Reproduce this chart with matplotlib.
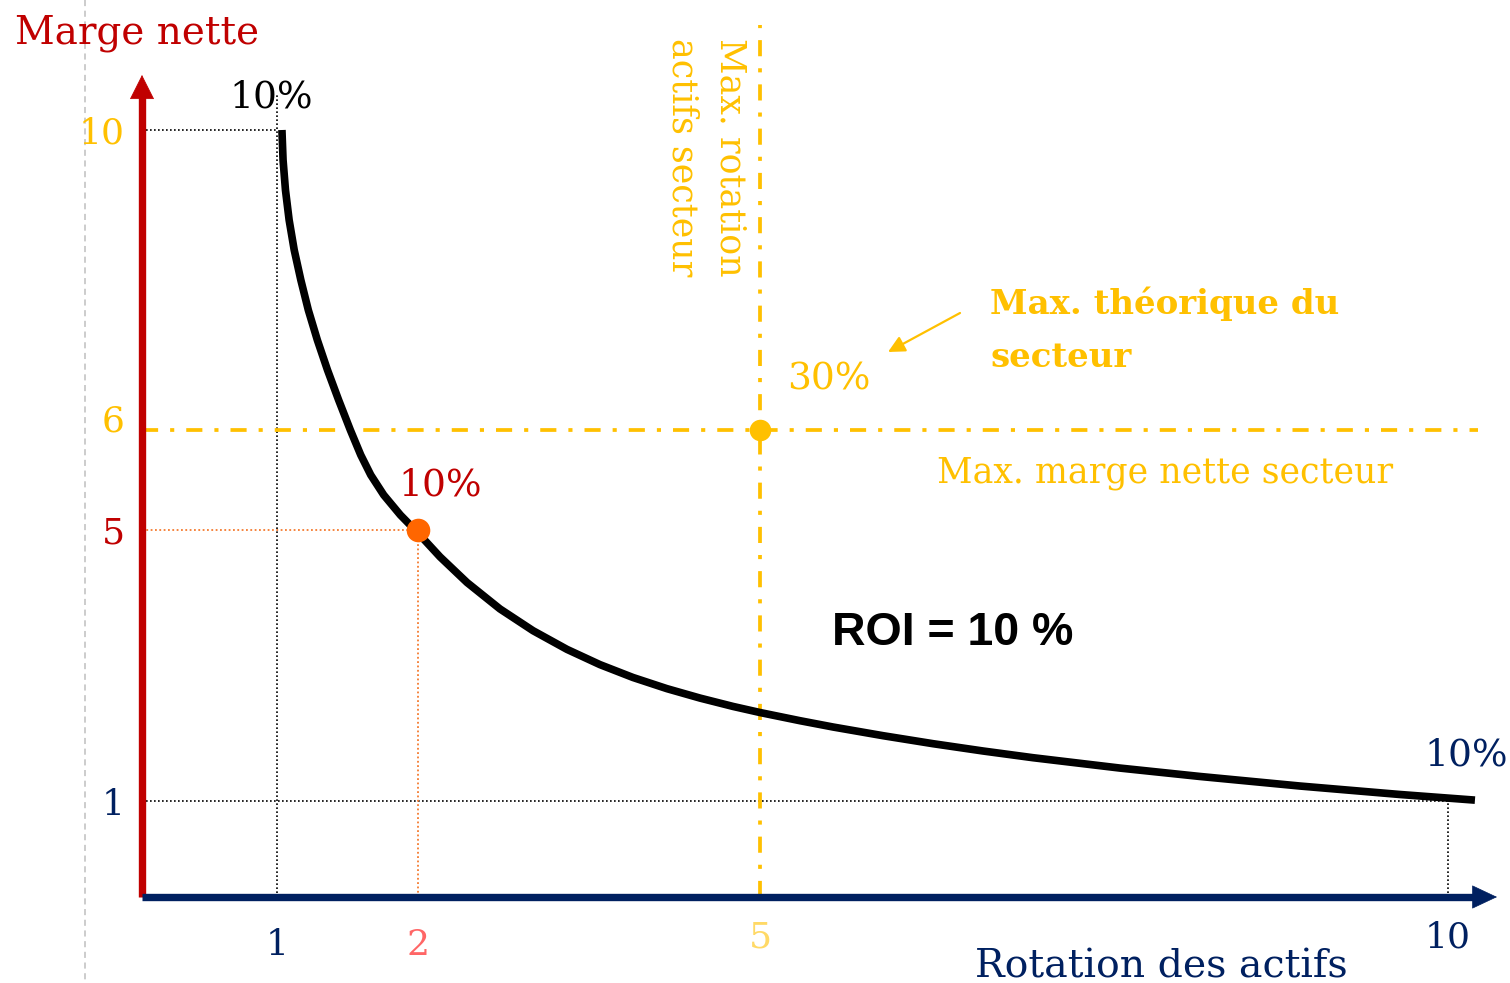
import numpy as np
import matplotlib
matplotlib.use('Agg')
import matplotlib.pyplot as plt
import matplotlib.transforms as mtransforms

W, H = 1510, 983

# the drawing is a schematic: values are not spaced linearly, so map value -> pixel
x_knots = [-2, 0, 1, 2, 5, 10, 12]
x_pix = [-129, 142, 277, 418, 760, 1448, 1723]
y_knots = [-2, 0, 1, 5, 6, 10, 12]
y_pix = [1089, 897, 801, 530, 430, 130, -20]

# ROI = 10 % curve (rotation, marge)
curve_x = [1.035, 1.043, 1.060, 1.086, 1.122, 1.169, 1.222, 1.286, 1.358, 1.437,
           1.520, 1.594, 1.665, 1.757, 1.875, 2.0, 2.193, 2.430, 2.719, 3.009,
           3.307, 3.596, 3.886, 4.184, 4.474, 4.763, 5.0, 5.291, 5.531, 5.894,
           6.257, 6.621, 6.984, 7.616, 8.198, 8.924, 9.651, 10.196]
curve_y = [10.0, 9.6, 9.2, 8.8, 8.4, 8.0, 7.6, 7.2, 6.8, 6.4,
           6.0, 5.75, 5.55, 5.35, 5.15, 4.956, 4.604, 4.225, 3.835, 3.514,
           3.238, 3.013, 2.823, 2.658, 2.519, 2.396, 2.306, 2.185, 2.092, 1.964,
           1.846, 1.738, 1.639, 1.486, 1.362, 1.221, 1.096, 1.013]

xtick_vals = [1, 2, 5, 10]
xtick_labels = ['1', '2', '5', '10']
ytick_vals = [1, 5, 6, 10]
ytick_labels = ['1', '5', '6', '10']

point_x, point_y = 2, 5          # point at ROI 10 %
sector_rot, sector_marge = 5, 6  # sector maxima

RED = '#c00000'
NAVY = '#002060'
GOLD = '#ffc000'
ORANGE = '#ff6600'
ORANGE_DOT = '#f47b2f'

xtick_colors = [NAVY, '#ff6666', '#ffd966', NAVY]
xtick_base = [955, 955, 947, 947]
ytick_colors = [NAVY, RED, GOLD, GOLD]
ytick_dy = [0, 0, 13, 0]

plt.rcParams['font.family'] = 'DejaVu Serif'

fig = plt.figure(figsize=(W / 100, H / 100), dpi=100)
ax = fig.add_axes([0, 0, 1, 1])

y_up = [H - p for p in y_pix]
fx = lambda v: np.interp(v, x_knots, x_pix)
ix = lambda p: np.interp(p, x_pix, x_knots)
fy = lambda v: np.interp(v, y_knots, y_up)
iy = lambda p: np.interp(p, y_up, y_knots)
ax.set_xscale('function', functions=(fx, ix))
ax.set_yscale('function', functions=(fy, iy))
ax.set_xlim(ix(0), ix(W))
ax.set_ylim(iy(0), iy(H))
ax.axis('off')

# pixel transform, origin top-left
px = mtransforms.Affine2D().scale(1 / W, -1 / H).translate(0, 1) + fig.transFigure

# light grey slide guide
ax.plot([85, 85], [0, H], color='#bfbfbf', lw=1.1, ls=(0, (4, 3)), transform=px)

# reference lines
dot = dict(color='black', lw=1.2, ls=(0, (1, 1.4)))
ax.plot([0, 1], [10, 10], **dot)
ax.plot([1, 1], [0, iy(H - 93)], **dot)
ax.plot([0, 10], [1, 1], **dot)
ax.plot([10, 10], [0, 1], **dot)
odot = dict(color=ORANGE_DOT, lw=1.3, ls=(0, (1, 1.4)))
ax.plot([0, point_x], [point_y, point_y], **odot)
ax.plot([point_x, point_x], [0, point_y], **odot)

dashdot = dict(color=GOLD, lw=2.7, ls=(0, (4.3, 3.2, 1.1, 3.2)))
ax.plot([0, ix(1478)], [sector_marge, sector_marge], **dashdot)
ax.plot([sector_rot, sector_rot], [0, iy(H - 25)], **dashdot)

# the curve
ax.plot(curve_x, curve_y, color='black', lw=5.5, solid_capstyle='butt',
        solid_joinstyle='round', zorder=4)

ax.plot(point_x, point_y, 'o', ms=17, color=ORANGE, mec='none', zorder=5)
ax.plot(sector_rot, sector_marge, 'o', ms=15.5, color=GOLD, mec='none', zorder=5)

# axes with arrows
y_tip = iy(H - 75)
x_tip = ix(1497)
ax.plot([0, 0], [0, iy(H - 97)], color=RED, lw=5.3, solid_capstyle='butt', zorder=3)
ax.annotate('', xy=(0, y_tip), xytext=(0, iy(H - 110)),
            arrowprops=dict(arrowstyle='-|>,head_length=16.5,head_width=8.3',
                            mutation_scale=1, lw=0.5, color=RED, shrinkA=0, shrinkB=0))
ax.plot([0, ix(1474)], [0, 0], color=NAVY, lw=5.3, solid_capstyle='butt', zorder=3)
ax.annotate('', xy=(x_tip, 0), xytext=(ix(1460), 0),
            arrowprops=dict(arrowstyle='-|>,head_length=17,head_width=8',
                            mutation_scale=1, lw=0.5, color=NAVY, shrinkA=0, shrinkB=0))

# tick labels
xt = mtransforms.blended_transform_factory(ax.transData, px)
for v, lab, c, b in zip(xtick_vals, xtick_labels, xtick_colors, xtick_base):
    ax.text(v, b, lab, transform=xt, ha='center', va='baseline', fontsize=26, color=c)
for v, lab, c, dy in zip(ytick_vals, ytick_labels, ytick_colors, ytick_dy):
    yt = mtransforms.offset_copy(mtransforms.blended_transform_factory(px, ax.transData),
                                 fig=fig, y=-14 + dy, units='dots')
    ax.text(125, v, lab, transform=yt, ha='right', va='baseline', fontsize=26, color=c)

# labels
ax.text(15, 43, 'Marge nette', transform=px, fontsize=28, color=RED, va='baseline')
ax.text(975, 978, 'Rotation des actifs', transform=px, fontsize=28.4, color=NAVY, va='baseline')
ax.text(229, 108, '10%', transform=px, fontsize=27, color='black', va='baseline')
ax.text(398, 496, '10%', transform=px, fontsize=27, color=RED, va='baseline')
ax.text(1424, 765, '10%', transform=px, fontsize=27, color=NAVY, va='baseline')
ax.text(787, 390, '30%', transform=px, fontsize=27, color=GOLD, va='baseline')

ax.text(721, 38, 'Max. rotation', transform=px, fontsize=25, color=GOLD, rotation=-90,
        rotation_mode='anchor', ha='left', va='baseline')
ax.text(673, 38, 'actifs secteur', transform=px, fontsize=25, color=GOLD, rotation=-90,
        rotation_mode='anchor', ha='left', va='baseline')

ax.text(990, 314, 'Max. théorique du', transform=px, fontsize=24.5, fontweight='bold',
        color=GOLD, va='baseline')
ax.text(990, 367, 'secteur', transform=px, fontsize=24.5, fontweight='bold',
        color=GOLD, va='baseline')
ax.annotate('', xy=(888, 352), xytext=(960, 313), xycoords=px, textcoords=px,
            arrowprops=dict(arrowstyle='-|>,head_length=10,head_width=5',
                            mutation_scale=1, lw=1.6, color=GOLD, shrinkA=0, shrinkB=0))
ax.text(937, 483, 'Max. marge nette secteur', transform=px, fontsize=25,
        color=GOLD, va='baseline')

ax.text(832, 645, 'ROI = 10 %', transform=px, fontsize=33.5, fontweight='bold',
        family='Liberation Sans', color='black', va='baseline')

fig.savefig('out.png', dpi=100)
